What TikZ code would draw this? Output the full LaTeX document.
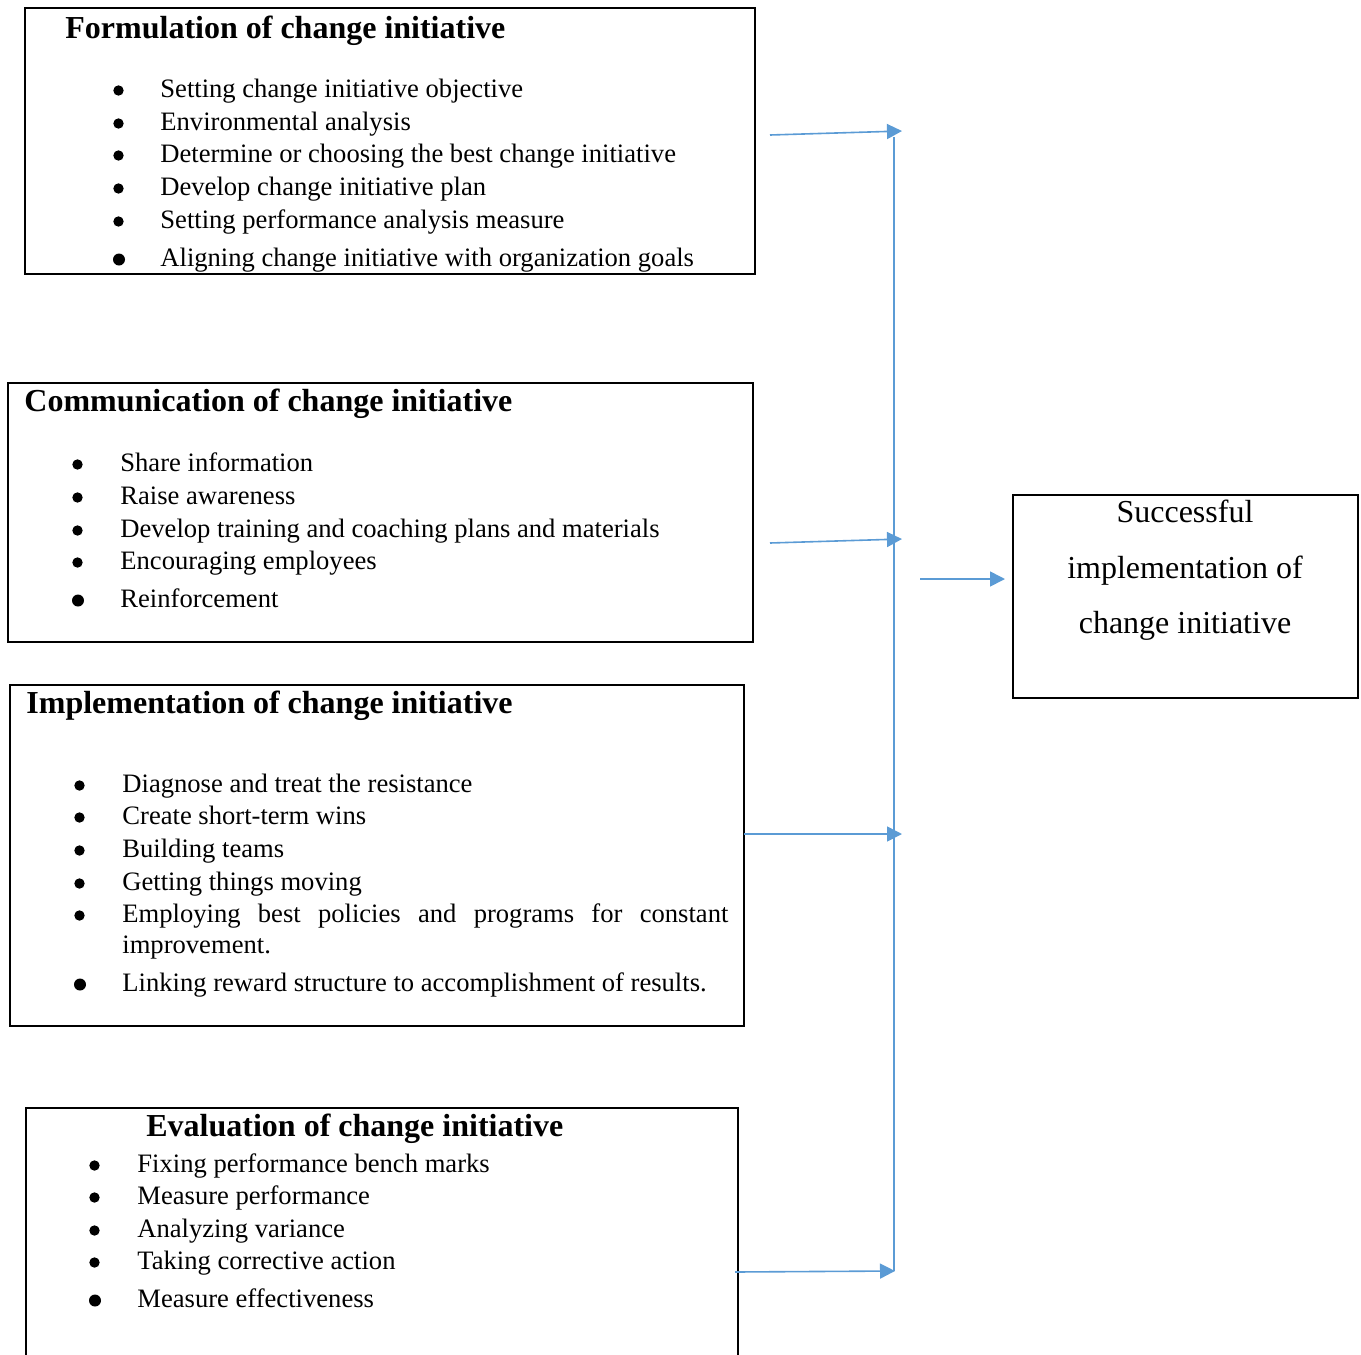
\documentclass[tikz,border=0pt]{standalone}
\usepackage{fontspec}
\setmainfont{Liberation Serif}
\usetikzlibrary{arrows.meta}

\definecolor{flowblue}{RGB}{91,155,213}
\tikzset{
  stage/.style={draw=black, line width=1pt, inner sep=0pt},
  head/.style={anchor=base west, inner sep=0pt, font=\fontsize{16}{19}\selectfont\bfseries},
  entry/.style={anchor=base west, inner sep=0pt, font=\fontsize{13.3}{16.3}\selectfont},
  dot/.style={circle, fill=black, inner sep=0pt, minimum size=5.2pt},
  bigdot/.style={dot, minimum size=6pt},
  goal/.style={anchor=base, inner sep=0pt, font=\fontsize{16}{19}\selectfont},
  bus/.style={draw=flowblue, line width=0.8pt},
  flow/.style={bus, -{Triangle[length=7.5pt,width=7.5pt]}},
}

\begin{document}
\begin{tikzpicture}[x=0.5pt,y=-0.5pt]
\clip (0,0) rectangle (1361,1355);
% the five boxes
\node[stage, minimum width=365pt, minimum height=133pt] (form) at (390,141) {};
\node[stage, minimum width=372.5pt, minimum height=129.5pt] (comm) at (380.5,512.5) {};
\node[stage, minimum width=367pt, minimum height=170.5pt] (impl) at (377,855.5) {};
\node[stage, minimum width=356pt, minimum height=146pt] (eval) at (382,1254) {};
\node[stage, minimum width=172.5pt, minimum height=101.5pt] (succ) at (1185.5,596.5) {};

% formulation
\node[head] (formhead) at (65,38) {Formulation of change initiative};
\foreach \n/\y/\t in {1/97/Setting change initiative objective,
                      2/130/Environmental analysis,
                      3/162/Determine or choosing the best change initiative,
                      4/195/Develop change initiative plan,
                      5/228/Setting performance analysis measure} {
  \node[dot] (formdot\n) at (118.5,\y-6.5) {};
  \node[entry] (formitem\n) at (160,\y) {\t};
}
\node[bigdot] (formdot6) at (119,259.5) {};
\node[entry] (formitem6) at (160,266) {Aligning change initiative with organization goals};

% communication
\node[head] (commhead) at (24,411) {Communication of change initiative};
\foreach \n/\y/\t in {1/471/Share information,
                      2/504/Raise awareness,
                      3/537/Develop training and coaching plans and materials,
                      4/569/Encouraging employees} {
  \node[dot] (commdot\n) at (77.5,\y-6.5) {};
  \node[entry] (commitem\n) at (120,\y) {\t};
}
\node[bigdot] (commdot5) at (78,600.5) {};
\node[entry] (commitem5) at (120,607) {Reinforcement};

% implementation
\node[head] (implhead) at (26,713) {Implementation of change initiative};
\foreach \n/\y/\t in {1/792/Diagnose and treat the resistance,
                      2/824/Create short-term wins,
                      3/857/Building teams,
                      4/890/Getting things moving,
                      5/922/\makebox[303pt][s]{Employing best policies and programs for constant}} {
  \node[dot] (impldot\n) at (79.5,\y-6.5) {};
  \node[entry] (implitem\n) at (122,\y) {\t};
}
\node[entry] (implwrap) at (122,953) {improvement.};
\node[bigdot] (impldot6) at (80,984.5) {};
\node[entry] (implitem6) at (122,991) {Linking reward structure to accomplishment of results.};

% evaluation
\node[head] (evalhead) at (146,1136) {Evaluation of change initiative};
\foreach \n/\y/\t in {1/1172/Fixing performance bench marks,
                      2/1204/Measure performance,
                      3/1237/Analyzing variance,
                      4/1269/Taking corrective action} {
  \node[dot] (evaldot\n) at (94.5,\y-6.5) {};
  \node[entry] (evalitem\n) at (137,\y) {\t};
}
\node[bigdot] (evaldot5) at (95,1300.5) {};
\node[entry] (evalitem5) at (137,1307) {Measure effectiveness};

% outcome
\node[goal] (succ1) at (1185,522) {Successful};
\node[goal] (succ2) at (1185,578) {implementation of};
\node[goal] (succ3) at (1185,633) {change initiative};

% connectors
\coordinate (a1s) at (770,135);
\coordinate (a1e) at (902,131);
\coordinate (a2s) at (770,543);
\coordinate (a2e) at (902,539);
\coordinate (a3s) at (744,834);
\coordinate (a3e) at (902,834);
\coordinate (a4s) at (735,1272);
\coordinate (a4e) at (895,1271);
\coordinate (bt) at (894,137);
\coordinate (bb) at (894,1271);
\coordinate (a5s) at (920,579);
\coordinate (a5e) at (1005,579);
\draw[bus] (bt) -- (bb);
\draw[flow] (a1s) -- (a1e);
\draw[flow] (a2s) -- (a2e);
\draw[flow] (a3s) -- (a3e);
\draw[flow] (a4s) -- (a4e);
\draw[flow] (a5s) -- (a5e);
\end{tikzpicture}
\end{document}
